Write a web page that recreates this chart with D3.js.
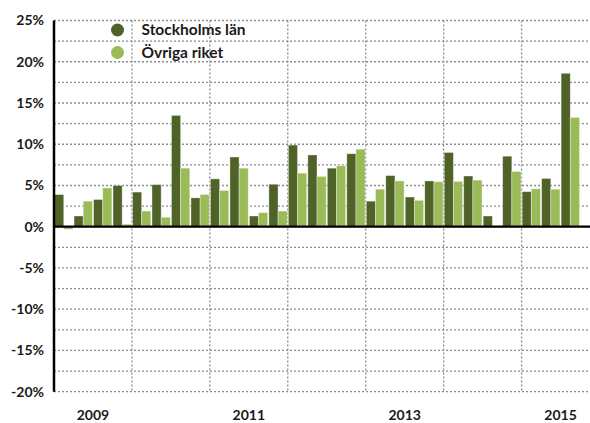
<!DOCTYPE html>
<html>
<head>
<meta charset="utf-8">
<script src="https://cdn.jsdelivr.net/npm/d3@7/dist/d3.min.js"></script>
<style>
    body { margin: 0; background: #fff; }
    text { font-family: Lato, "Open Sans", sans-serif; font-weight: bold; fill: #1a1a1a; }
    .grid line { stroke: #8c8c8c; stroke-width: 1.3; stroke-dasharray: 2, 2; }
</style>
</head>
<body>
<div id="chart"></div>
<script>
// quarterly change, 2009 Q1 - 2015 Q4
const years = ["2009", "2010", "2011", "2012", "2013", "2014", "2015"];
const quarters = years.flatMap(y => ["Q1", "Q2", "Q3", "Q4"].map(q => y + q));
const yearLabels = ["2009", "2011", "2013", "2015"];
const seriesNames = ["Stockholms län", "Övriga riket"];

const stockholm = [3.9, 1.3, 3.3, 5.0,  4.2, 5.1, 13.5, 3.5,  5.8, 8.45, 1.3, 5.15,
                   9.9, 8.7, 7.1, 8.85,  3.1, 6.2, 3.6, 5.55,  9.0, 6.15, 1.3, 8.55,
                   4.25, 5.85, 18.6, null];
const ovriga = [-0.3, 3.1, 4.7, 0.3,  1.9, 1.15, 7.1, 3.9,  4.4, 7.1, 1.7, 1.9,
                6.5, 6.1, 7.4, 9.4,  4.55, 5.55, 3.2, 5.45,  5.5, 5.65, null, 6.7,
                4.6, 4.55, 13.25, null];

const colors = ["#4f6228", "#9bbb59"];

const width = 590, height = 423;
const margin = {left: 54, top: 20.5, right: -9.5, bottom: 31.3};

const svg = d3.select("#chart").append("svg")
    .attr("width", width)
    .attr("height", height);

const x = d3.scaleBand()
    .domain(quarters)
    .range([margin.left, width - margin.right])
    .paddingInner(0.06)
    .paddingOuter(0.03);

const xSub = d3.scaleBand()
    .domain(seriesNames)
    .range([0, x.bandwidth()]);

const y = d3.scaleLinear()
    .domain([-20, 25])
    .range([height - margin.bottom, margin.top]);

const step = x.step();
const yearStart = yr => x(yr + "Q1") - x.paddingOuter() * step;

// gridlines
let grid = svg.append("g").attr("class", "grid");
grid.selectAll("line.h")
    .data(d3.range(-20, 25.1, 2.5))
    .enter().append("line")
    .attr("x1", margin.left)
    .attr("x2", width - margin.right)
    .attr("y1", d => y(d))
    .attr("y2", d => y(d));

grid.selectAll("line.v")
    .data(years.slice(1))
    .enter().append("line")
    .attr("x1", d => yearStart(d))
    .attr("x2", d => yearStart(d))
    .attr("y1", y(25))
    .attr("y2", y(-20));

// bars
let rows = quarters.map((q, i) => ({q: q, values: [stockholm[i], ovriga[i]]}));

let groups = svg.selectAll("g.quarter")
    .data(rows)
    .enter().append("g")
    .attr("class", "quarter")
    .attr("transform", d => "translate(" + x(d.q) + ",0)");

groups.selectAll("rect")
    .data(d => d.values.map((v, i) => ({name: seriesNames[i], value: v, i: i})))
    .enter()
    .filter(d => d.value !== null)
    .append("rect")
    .attr("x", d => xSub(d.name))
    .attr("width", xSub.bandwidth())
    .attr("y", d => y(Math.max(0, d.value)))
    .attr("height", d => Math.abs(y(d.value) - y(0)))
    .attr("fill", d => colors[d.i])
    .attr("stroke", "#ffffff")
    .attr("stroke-opacity", 0.45)
    .attr("stroke-width", 0.8);

// axis lines
svg.append("line")
    .attr("x1", margin.left)
    .attr("x2", width - margin.right)
    .attr("y1", y(0))
    .attr("y2", y(0))
    .attr("stroke", "#000")
    .attr("stroke-width", 2.2);

svg.append("line")
    .attr("x1", margin.left)
    .attr("x2", margin.left)
    .attr("y1", y(25))
    .attr("y2", y(-20))
    .attr("stroke", "#000")
    .attr("stroke-width", 2.5);

// y axis labels
let yAxis = svg.append("g")
    .attr("transform", "translate(" + (margin.left - 10) + ",0)")
    .call(d3.axisLeft(y).tickValues(d3.range(-20, 25.1, 5)).tickSize(0).tickFormat(d => d + "%"));
yAxis.select(".domain").remove();
yAxis.selectAll("text")
    .attr("x", 0)
    .style("font-size", "14px")
    .style("font-family", "Lato, 'Open Sans', sans-serif")
    .style("font-weight", "bold")
    .attr("fill", "#1a1a1a");

// year labels
svg.selectAll("text.year")
    .data(yearLabels)
    .enter().append("text")
    .attr("class", "year")
    .attr("x", d => yearStart(d) + 2 * step)
    .attr("y", 420)
    .attr("text-anchor", "middle")
    .style("font-size", "14px")
    .text(d => d);

// legend
let legend = svg.selectAll("g.legend")
    .data(seriesNames)
    .enter().append("g")
    .attr("class", "legend")
    .attr("transform", (d, i) => "translate(117.5," + (30 + i * 22.5) + ")");

legend.append("circle")
    .attr("r", 6.5)
    .attr("fill", (d, i) => colors[i]);

legend.append("text")
    .attr("x", 24)
    .attr("dy", "0.35em")
    .style("font-size", "15.5px")
    .text(d => d);
</script>
</body>
</html>
